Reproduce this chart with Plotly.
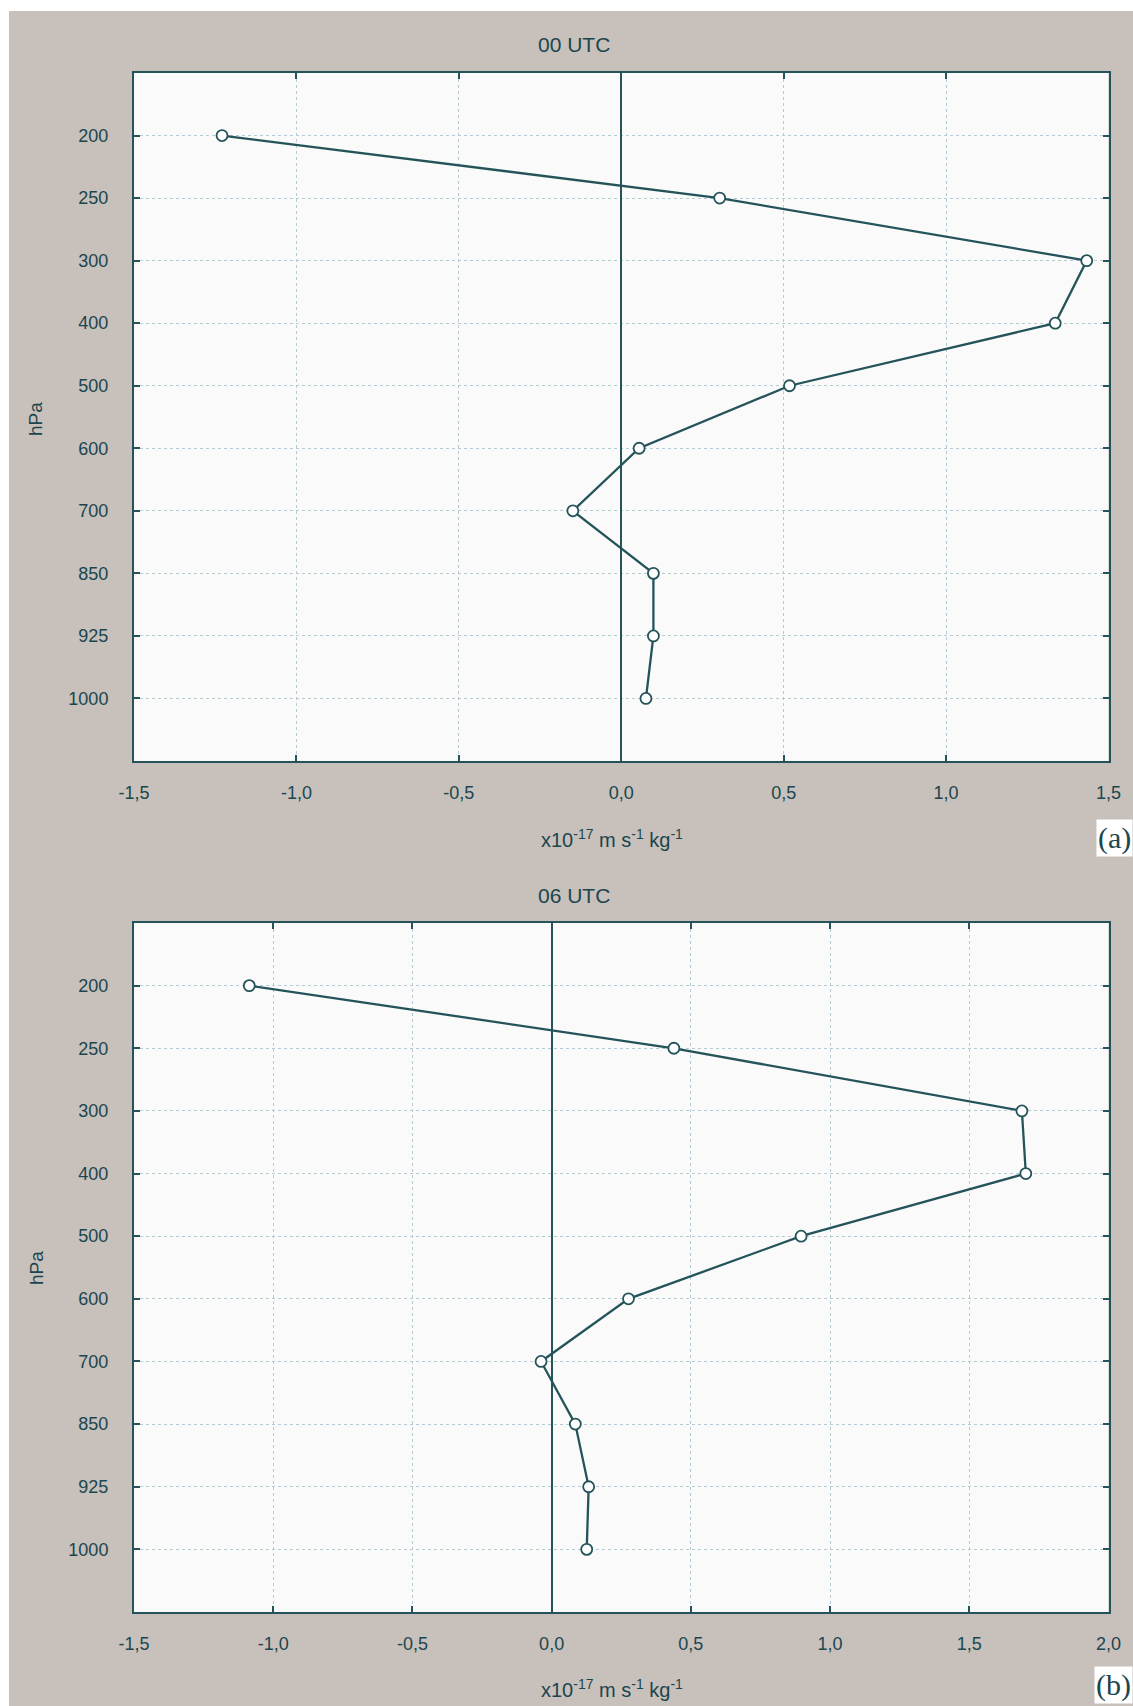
import plotly.graph_objects as go

levels = ["200", "250", "300", "400", "500", "600", "700", "850", "925", "1000"]
utc00 = [-1.229, 0.303, 1.433, 1.336, 0.518, 0.055, -0.149, 0.099, 0.099, 0.076]
utc06 = [-1.086, 0.439, 1.689, 1.703, 0.896, 0.276, -0.038, 0.085, 0.133, 0.126]

xticks_a = [-1.5, -1.0, -0.5, 0.0, 0.5, 1.0, 1.5]
xticks_b = [-1.5, -1.0, -0.5, 0.0, 0.5, 1.0, 1.5, 2.0]

def comma(v):
    return f"{v:.1f}".replace(".", ",")

W, H = 1133, 1706
TEXT = "#1b464e"
LINE = "#24545a"
GRAY = "#c7c0bb"
FONT = "Liberation Sans, Arial, sans-serif"

fig = go.Figure()

for vals, xa, ya in [(utc00, "x", "y"), (utc06, "x2", "y2")]:
    fig.add_trace(go.Scatter(
        x=vals, y=levels, xaxis=xa, yaxis=ya, mode="lines+markers",
        line=dict(color=LINE, width=2.3),
        marker=dict(symbol="circle", size=11, color="white",
                    line=dict(color=LINE, width=1.8)),
        showlegend=False, hoverinfo="x+y"))

def px(x):
    return x / W

def py(y):
    return 1 - y / H

xdom = [px(134), px(1108.5)]

common_x = dict(
    automargin=False,
    showline=True, linecolor=LINE, linewidth=2, mirror="ticks",
    ticks="inside", ticklen=6, tickwidth=2, tickcolor=LINE,
    showgrid=True, gridcolor="#b6cbd4", griddash="dot", gridwidth=1,
    zeroline=True, zerolinecolor=LINE, zerolinewidth=2,
    tickfont=dict(family=FONT, size=18, color=TEXT),
    ticklabelstandoff=14,
    domain=xdom,
)
common_y = dict(
    automargin=False,
    type="category", categoryorder="array", categoryarray=levels,
    range=[10, -1],
    showline=True, linecolor=LINE, linewidth=2, mirror="ticks",
    ticks="inside", ticklen=6, tickwidth=2, tickcolor=LINE,
    showgrid=True, gridcolor="#b6cbd4", griddash="dot", gridwidth=1,
    tickfont=dict(family=FONT, size=18, color=TEXT),
    ticklabelstandoff=20,
)

fig.update_layout(
    width=W, height=H, autosize=False,
    margin=dict(l=0, r=0, t=0, b=0, pad=0),
    paper_bgcolor=GRAY,
    plot_bgcolor="#fafafa",
    xaxis=dict(common_x, anchor="y", range=[-1.5, 1.5],
               tickvals=xticks_a, ticktext=[comma(v) for v in xticks_a]),
    yaxis=dict(common_y, anchor="x", domain=[py(761), py(73)]),
    xaxis2=dict(common_x, anchor="y2", range=[-1.5, 2.0],
                tickvals=xticks_b, ticktext=[comma(v) for v in xticks_b]),
    yaxis2=dict(common_y, anchor="x2", domain=[py(1612), py(923)]),
)

# white strips along the top and left edges of the page
fig.add_shape(type="rect", xref="paper", yref="paper", layer="below",
              x0=0, x1=1.0, y0=py(11), y1=1.0,
              fillcolor="white", line=dict(width=0))
fig.add_shape(type="rect", xref="paper", yref="paper", layer="below",
              x0=0, x1=px(9), y0=0, y1=1.0,
              fillcolor="white", line=dict(width=0))

xtitle = "x10<sup>-17</sup> m s<sup>-1</sup> kg<sup>-1</sup>"
annots = [
    dict(text="00 UTC", x=px(574), y=py(44), size=21),
    dict(text="06 UTC", x=px(574), y=py(895), size=21),
    dict(text=xtitle, x=px(612), y=py(838), size=20),
    dict(text=xtitle, x=px(612), y=py(1688), size=20),
]
for a in annots:
    fig.add_annotation(xref="paper", yref="paper", showarrow=False,
                       xanchor="center", yanchor="middle",
                       text=a["text"], x=a["x"], y=a["y"],
                       font=dict(family=FONT, size=a["size"], color=TEXT))

for yc in [419, 1268]:
    fig.add_annotation(xref="paper", yref="paper", showarrow=False,
                       text="hPa", textangle=-90, x=px(36), y=py(yc),
                       xanchor="center", yanchor="middle",
                       font=dict(family=FONT, size=19, color=TEXT))

for t, yc in [("(a)", 838), ("(b)", 1685)]:
    fig.add_annotation(xref="paper", yref="paper", showarrow=False,
                       text=t, x=1.0, y=py(yc), xanchor="right", yanchor="middle",
                       bgcolor="white", borderpad=1,
                       font=dict(family="Liberation Serif, Times New Roman, serif",
                                 size=30, color=TEXT))

fig.write_html(
    "out.html",
    config=dict(displayModeBar=False),
    post_script="document.body.style.margin='0';document.body.style.overflow='hidden';",
)
